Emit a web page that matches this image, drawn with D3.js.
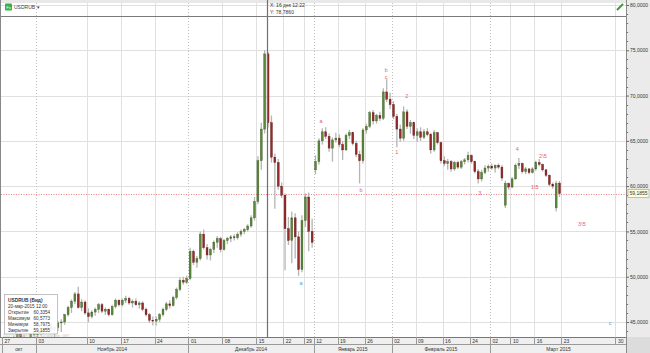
<!DOCTYPE html>
<html>
<head>
<meta charset="utf-8">
<script src="https://cdn.jsdelivr.net/npm/d3@7"></script>
<style>
body { margin: 0; background: #fff; }
svg { font-family: "Liberation Sans", Arial, sans-serif; }
</style>
</head>
<body>
<svg id="chart" width="650" height="353"></svg>
<script>
// week cells on the time axis and how many bars fall in each week
var weekLabels = ["27", "03", "10", "17", "24", "01", "08", "15", "22", "29", "12", "19", "26", "02", "09", "16", "24", "02", "10", "16", "23", "30"];
var weekBars = [10, 15, 10, 10, 10, 10, 10, 8, 6, 3, 7, 8, 8, 7, 8, 8, 6, 6, 7, 8, 16, 4];
var monthLabels = ["окт", "Ноябрь 2014", "Декабрь 2014", "Январь 2015", "Февраль 2015", "Март 2015"];
var monthWeeks = [1, 4, 5, 3, 4, 5];
var dottedWeeks = [1, 5, 10, 13, 17];
var priceTicks = [45, 50, 55, 60, 65, 70, 75, 80];
var lastPrice = 59.1855;

// open, high, low, close
var ohlc = [
    // 27 oct
    [42.0, 42.6, 41.8, 42.4], [42.4, 43.0, 42.2, 42.8], [42.8, 43.2, 42.4, 42.6], [42.6, 43.5, 42.5, 43.3], [43.3, 43.9, 43.0, 43.6],
    [43.6, 44.0, 43.1, 43.3], [43.3, 43.6, 42.2, 42.5], [42.5, 43.1, 41.9, 42.9], [42.9, 43.8, 42.8, 43.6], [43.6, 44.2, 43.4, 44.0],
    // 03 nov
    [43.6, 44.0, 43.2, 43.8], [43.8, 44.3, 43.5, 44.1], [44.1, 44.6, 43.8, 44.3], [44.3, 44.7, 43.9, 44.5], [44.5, 44.9, 44.0, 44.2],
    [44.2, 44.6, 43.0, 44.4], [44.4, 45.1, 44.0, 44.9], [44.9, 45.3, 43.9, 45.0], [45.0, 45.9, 44.7, 45.8], [45.8, 46.8, 45.6, 46.6],
    [46.6, 47.5, 46.0, 47.3], [47.3, 48.3, 47.0, 48.1], [48.1, 48.9, 46.5, 46.6], [46.6, 47.5, 46.2, 47.2], [47.2, 47.4, 45.8, 46.0],
    // 10 nov
    [46.0, 46.5, 45.0, 45.6], [45.6, 46.3, 45.4, 46.1], [46.1, 46.6, 45.7, 46.4], [46.4, 47.1, 46.0, 46.9], [46.9, 47.1, 46.0, 46.2],
    [46.2, 46.6, 45.8, 46.4], [46.4, 46.5, 45.6, 45.8], [45.8, 46.9, 45.7, 46.7], [46.7, 47.6, 46.5, 47.4], [47.4, 47.5, 46.7, 46.9],
    // 17 nov
    [46.9, 47.6, 46.7, 47.4], [47.4, 47.9, 47.1, 47.6], [47.6, 47.8, 46.9, 47.1], [47.1, 47.5, 46.6, 47.3], [47.3, 47.6, 46.8, 46.9],
    [46.9, 47.3, 46.5, 47.1], [47.1, 47.3, 46.2, 46.4], [46.4, 46.6, 45.6, 45.8], [45.8, 46.0, 44.9, 45.2], [45.2, 45.6, 44.6, 45.1],
    // 24 nov
    [45.1, 45.6, 44.6, 45.3], [45.3, 46.0, 45.0, 45.8], [45.8, 46.6, 45.6, 46.4], [46.4, 47.2, 46.2, 47.0], [47.0, 47.4, 46.5, 46.8],
    [46.8, 47.9, 46.7, 47.7], [47.7, 48.8, 47.5, 48.6], [48.6, 49.9, 48.4, 49.6], [49.6, 50.0, 49.1, 49.4], [49.4, 50.1, 49.2, 49.8],
    // 01 dec
    [49.8, 53.2, 49.6, 52.8], [52.8, 53.0, 51.3, 51.6], [51.6, 52.3, 51.0, 52.0], [52.0, 55.0, 51.8, 54.7], [54.7, 55.2, 53.0, 53.2],
    [53.2, 53.6, 51.9, 52.4], [52.4, 53.2, 51.8, 53.0], [53.0, 54.0, 52.6, 53.8], [53.8, 54.5, 53.2, 54.2], [54.2, 54.4, 52.7, 53.0],
    // 08 dec
    [53.0, 54.2, 52.9, 54.0], [54.0, 54.4, 53.6, 54.2], [54.2, 54.6, 53.8, 54.4], [54.4, 54.7, 54.0, 54.3], [54.3, 54.9, 54.1, 54.7],
    [54.7, 55.2, 54.4, 55.0], [55.0, 55.4, 54.7, 55.2], [55.2, 55.8, 55.0, 55.6], [55.6, 56.8, 55.4, 56.5], [56.5, 58.8, 56.2, 58.3],
    // 15 dec
    [58.3, 63.3, 58.0, 62.8], [62.8, 67.0, 61.8, 66.3], [66.3, 75.0, 65.8, 74.6], [74.6, 74.8, 66.5, 67.0],
    [67.0, 67.8, 62.6, 63.2], [63.2, 63.6, 57.5, 62.6], [62.6, 63.0, 59.6, 60.0], [60.0, 60.4, 58.7, 59.0],
    // 22 dec
    [59.0, 59.2, 50.7, 55.3], [55.3, 56.6, 53.5, 54.0], [54.0, 57.2, 51.5, 56.5], [56.5, 57.0, 52.0, 54.4], [54.4, 55.0, 50.1, 50.8], [50.8, 56.8, 50.5, 56.2],
    // 29 dec
    [56.2, 59.2, 55.5, 58.8], [58.8, 59.3, 52.8, 55.0], [55.0, 56.4, 53.2, 53.8],
    // 12 jan
    [61.8, 63.4, 61.3, 62.7], [62.7, 65.3, 62.4, 65.0], [65.0, 66.4, 64.6, 66.0], [66.0, 66.5, 65.2, 65.5], [65.5, 65.8, 63.8, 64.2], [64.2, 65.4, 62.7, 65.1], [65.1, 65.9, 64.8, 65.3],
    // 19 jan
    [65.3, 65.7, 64.3, 64.6], [64.6, 65.0, 62.9, 64.0], [64.0, 65.8, 63.9, 65.6], [65.6, 66.2, 65.2, 65.9], [65.9, 66.0, 64.5, 64.7], [64.7, 65.0, 63.2, 63.5], [63.5, 63.9, 60.3, 62.8], [62.8, 66.4, 62.5, 66.2],
    // 26 jan
    [66.2, 66.9, 65.8, 66.6], [66.6, 68.3, 66.4, 68.1], [68.1, 68.4, 66.8, 67.2], [67.2, 68.0, 66.9, 67.8], [67.8, 68.2, 67.2, 67.5], [67.5, 70.8, 67.3, 70.4], [70.4, 71.8, 69.3, 69.6], [69.6, 70.3, 68.5, 69.0],
    // 02 feb
    [69.0, 69.4, 67.4, 67.7], [67.7, 68.0, 64.3, 66.3], [66.3, 66.8, 64.9, 65.3], [65.3, 68.8, 65.0, 68.2], [68.2, 68.5, 66.3, 66.6], [66.6, 67.3, 65.8, 67.0], [67.0, 67.1, 65.2, 65.6],
    // 09 feb
    [65.6, 66.4, 64.9, 66.0], [66.0, 66.5, 65.0, 65.4], [65.4, 66.3, 65.2, 66.0], [66.0, 66.4, 65.5, 65.7], [65.7, 65.9, 63.6, 64.0], [64.0, 66.2, 63.8, 65.9], [65.9, 66.0, 64.6, 64.8], [64.8, 64.9, 62.5, 62.8],
    // 16 feb
    [62.8, 63.3, 62.2, 62.5], [62.5, 63.0, 61.8, 62.7], [62.7, 62.9, 61.6, 61.9], [61.9, 62.8, 61.7, 62.6], [62.6, 62.8, 61.9, 62.1], [62.1, 62.9, 61.9, 62.7], [62.7, 63.1, 62.4, 62.9], [62.9, 63.8, 62.6, 63.4],
    // 24 feb
    [63.4, 63.5, 62.5, 62.7], [62.7, 62.8, 61.4, 61.6], [61.6, 61.9, 60.3, 60.8], [60.8, 61.8, 60.5, 61.5], [61.5, 62.3, 61.3, 62.0], [62.0, 62.4, 61.6, 62.2],
    // 02 mar
    [62.2, 62.5, 61.8, 62.0], [62.0, 62.4, 61.5, 62.3], [62.3, 62.5, 61.9, 62.1], [62.1, 62.3, 60.6, 60.9], [57.9, 60.6, 57.6, 60.3], [60.3, 60.4, 59.6, 59.9],
    // 10 mar
    [59.9, 61.0, 59.8, 60.8], [60.8, 62.5, 60.7, 62.3], [62.3, 63.1, 61.9, 62.5], [62.5, 62.6, 61.4, 61.6], [61.6, 62.1, 61.3, 61.9], [61.9, 62.0, 61.3, 61.5], [61.5, 62.1, 61.4, 61.9],
    // 16 mar
    [61.9, 62.8, 61.7, 62.6], [62.6, 63.0, 62.2, 62.4], [62.4, 62.5, 61.6, 61.8], [61.8, 61.9, 61.0, 61.2], [61.2, 61.3, 60.0, 60.2],
    [60.2, 60.4, 59.7, 60.0], [57.6, 60.6, 57.2, 60.3],
    [60.3354, 60.5773, 58.7975, 59.1855]
];

// wave marks: text, bar position, price, colour
var waveText = ["a", "b", "b", "c", "2", "1", "3", "4", "2\\5", "1\\5", "3\\5", "a", "c"];
var wavePos = [94.1, 105.9, 113.3, 113.3, 119.4, 116.5, 141.0, 152.0, 159.6, 157.2, 171.1, 88.2, 179.4];
var wavePrice = [67.2, 59.6, 72.8, 72.05, 69.95, 63.8, 59.25, 64.1, 63.35, 59.9, 55.8, 49.3, 44.9];
var waveBlue = [0, 0, 1, 0, 0, 0, 0, 0, 0, 0, 0, 1, 1];

var infoRows = [["Открытие", "60,3354"], ["Максимум", "60,5773"], ["Минимум", "58,7975"], ["Закрытие", "59,1855"]];

var W = 650, H = 353;
var plotL = 1, plotR = 627, plotT = 0, plotB = 337, dayB = 344.5;
var svg = d3.select("#chart");

var x = d3.scaleLinear().domain([0, 184.4]).range([2, plotR]);
var y = d3.scaleLinear().domain([45, 80]).range([322, 5]);
var fmt = function (v) { return d3.format(".4f")(v).replace(".", ","); };

var weekStart = [0];
weekBars.forEach(function (n, i) { weekStart.push(weekStart[i] + n); });
var monthStart = [0];
monthWeeks.forEach(function (n, i) { monthStart.push(monthStart[i] + n); });

svg.append("defs").append("clipPath").attr("id", "plotClip")
    .append("rect").attr("x", plotL).attr("y", plotT).attr("width", plotR - plotL).attr("height", plotB - plotT);

// grid
var grid = svg.append("g").attr("clip-path", "url(#plotClip)");
grid.selectAll("line.h").data(priceTicks).join("line")
    .attr("x1", plotL).attr("x2", plotR)
    .attr("y1", function (d) { return Math.round(y(d)) + 0.5; })
    .attr("y2", function (d) { return Math.round(y(d)) + 0.5; })
    .attr("stroke", "#e0e0e0");
grid.selectAll("line.v").data(weekLabels.slice(1)).join("line")
    .attr("x1", function (d, i) { return Math.round(x(weekStart[i + 1])) + 0.5; })
    .attr("x2", function (d, i) { return Math.round(x(weekStart[i + 1])) + 0.5; })
    .attr("y1", plotT).attr("y2", plotB)
    .attr("stroke", function (d, i) { return dottedWeeks.indexOf(i + 1) >= 0 ? "#c0c0c0" : "#e0e0e0"; })
    .attr("stroke-dasharray", function (d, i) { return dottedWeeks.indexOf(i + 1) >= 0 ? "1,2" : null; });

// top bar
svg.append("rect").attr("x", 0).attr("y", 0).attr("width", plotR).attr("height", 3).attr("fill", "#e8e8e8");

// last price line
svg.append("line").attr("x1", plotL).attr("x2", plotR)
    .attr("y1", Math.round(y(lastPrice)) + 0.5).attr("y2", Math.round(y(lastPrice)) + 0.5)
    .attr("stroke", "#f08080").attr("stroke-dasharray", "1,1.5");

// candles
var cg = svg.append("g").attr("clip-path", "url(#plotClip)");
var bw = 1.9;
cg.selectAll("line.wick").data(ohlc).join("line")
    .attr("x1", function (d, i) { return x(i + 0.5); })
    .attr("x2", function (d, i) { return x(i + 0.5); })
    .attr("y1", function (d) { return y(d[1]); })
    .attr("y2", function (d) { return y(d[2]); })
    .attr("stroke", "#b4b4b4").attr("stroke-width", 1.3);
cg.selectAll("rect.body").data(ohlc).join("rect")
    .attr("x", function (d, i) { return x(i + 0.5) - bw / 2; })
    .attr("width", bw)
    .attr("y", function (d) { return y(Math.max(d[0], d[3])); })
    .attr("height", function (d) { return Math.max(0.8, Math.abs(y(d[0]) - y(d[3]))); })
    .attr("fill", function (d) { return d[3] >= d[0] ? "#5a8838" : "#952a2a"; })
    .attr("stroke", function (d) { return d[3] >= d[0] ? "#3d5c26" : "#661919"; })
    .attr("stroke-width", 0.4);

// wave labels
svg.selectAll("text.wave").data(waveText).join("text")
    .attr("x", function (d, i) { return x(wavePos[i]); })
    .attr("y", function (d, i) { return y(wavePrice[i]); })
    .attr("text-anchor", "middle").attr("dominant-baseline", "central")
    .attr("font-size", 5.5)
    .attr("fill", function (d, i) { return waveBlue[i] ? "#4a9fd8" : "#e4606c"; })
    .text(function (d) { return d; });

// crosshair
svg.append("line").attr("x1", 267.5).attr("x2", 267.5).attr("y1", 0).attr("y2", plotB)
    .attr("stroke", "#707070").attr("stroke-width", 1.2);
svg.append("line").attr("x1", plotL).attr("x2", plotR).attr("y1", 16.5).attr("y2", 16.5)
    .attr("stroke", "#7a7a7a").attr("stroke-width", 1);
svg.append("text").attr("x", 270).attr("y", 7).attr("font-size", 5).attr("fill", "#333").text("X: 16 дек 12:22");
svg.append("text").attr("x", 270).attr("y", 13.5).attr("font-size", 5).attr("fill", "#333").text("Y: 78,7860");

// symbol badge
svg.append("rect").attr("x", 5).attr("y", 3.5).attr("width", 7).attr("height", 7).attr("fill", "#3cb043").attr("rx", 1);
svg.append("text").attr("x", 6.2).attr("y", 9).attr("font-size", 4).attr("fill", "#fff").text("Fx");
svg.append("text").attr("x", 14).attr("y", 9).attr("font-size", 5).attr("fill", "#444").text("USDRUB ▾");

// edit icon top right
svg.append("path").attr("d", "M617,10 L623,4").attr("stroke", "#3a9a3a").attr("stroke-width", 2);

// left border
svg.append("line").attr("x1", 0.5).attr("x2", 0.5).attr("y1", 0).attr("y2", plotB).attr("stroke", "#888");

// right axis panel
svg.append("rect").attr("x", plotR).attr("y", 0).attr("width", W - plotR).attr("height", H).attr("fill", "#ebebeb");
svg.append("line").attr("x1", plotR - 0.5).attr("x2", plotR - 0.5).attr("y1", 0).attr("y2", plotB).attr("stroke", "#8a8a8a");
var yAxis = svg.append("g").attr("transform", "translate(" + (plotR - 0.5) + ",0)")
    .call(d3.axisRight(y).tickValues(priceTicks).tickSize(2.5).tickPadding(1).tickFormat(fmt));
yAxis.select(".domain").remove();
yAxis.selectAll("text").attr("font-size", 5).attr("fill", "#333").attr("font-family", "Liberation Sans, Arial, sans-serif");
yAxis.selectAll("line").attr("stroke", "#666");
var minor = d3.range(44, 81).filter(function (v) { return v % 5 !== 0; });
svg.append("g").selectAll("line").data(minor).join("line")
    .attr("x1", plotR - 0.5).attr("x2", plotR + 1.2)
    .attr("y1", function (d) { return Math.round(y(d)) + 0.5; })
    .attr("y2", function (d) { return Math.round(y(d)) + 0.5; })
    .attr("stroke", "#777");

// last price tag
var ly = y(lastPrice);
svg.append("rect").attr("x", plotR + 1).attr("y", ly - 4).attr("width", 21).attr("height", 8)
    .attr("fill", "#ffffd8").attr("stroke", "#999").attr("stroke-width", 0.6);
svg.append("text").attr("x", plotR + 2.5).attr("y", ly + 1.8).attr("font-size", 5).attr("fill", "#333").text(fmt(lastPrice));

// info box
var ib = svg.append("g");
ib.append("rect").attr("x", 4.5).attr("y", 294.5).attr("width", 53).attr("height", 39.5)
    .attr("fill", "#fff").attr("fill-opacity", 0.92).attr("stroke", "#a8a8a8").attr("stroke-width", 0.7);
ib.append("text").attr("x", 8).attr("y", 302.3).attr("font-size", 4.8).attr("font-weight", "bold").attr("fill", "#333").text("USDRUB (Бид)");
ib.append("text").attr("x", 8).attr("y", 308.3).attr("font-size", 4.6).attr("fill", "#333").text("20-мар-2015 12:00");
ib.selectAll("text.lbl").data(infoRows).join("text")
    .attr("x", 8).attr("y", function (d, i) { return 314.3 + i * 5.8; })
    .attr("font-size", 4.6).attr("fill", "#333").text(function (d) { return d[0]; });
ib.selectAll("text.val").data(infoRows).join("text")
    .attr("x", 33.5).attr("y", function (d, i) { return 314.3 + i * 5.8; })
    .attr("font-size", 4.6).attr("fill", "#333").text(function (d) { return d[1]; });
svg.append("text").attr("x", 3).attr("y", 336.6).attr("font-size", 3.2).attr("fill", "#c4c4c4")
    .text("2014 © Thomson Reuters   Часовой пояс: GMT");

// bottom time axis
var ax = svg.append("g");
ax.append("rect").attr("x", 0).attr("y", plotB).attr("width", W).attr("height", H - plotB).attr("fill", "#efefef");
ax.append("line").attr("x1", 0).attr("x2", plotR).attr("y1", plotB + 0.5).attr("y2", plotB + 0.5).attr("stroke", "#777");
ax.append("line").attr("x1", 0).attr("x2", plotR).attr("y1", dayB).attr("y2", dayB).attr("stroke", "#999");
ax.selectAll("line.wk").data(weekLabels).join("line")
    .attr("x1", function (d, i) { return Math.round(x(weekStart[i])) + 0.5; })
    .attr("x2", function (d, i) { return Math.round(x(weekStart[i])) + 0.5; })
    .attr("y1", plotB).attr("y2", dayB).attr("stroke", "#999");
ax.selectAll("text.wk").data(weekLabels).join("text")
    .attr("x", function (d, i) { return x(weekStart[i]) + 2.5; })
    .attr("y", 342.8).attr("font-size", 5).attr("fill", "#333").text(function (d) { return d; });
ax.selectAll("line.mo").data(monthLabels).join("line")
    .attr("x1", function (d, i) { return Math.round(x(weekStart[monthStart[i]])) + 0.5; })
    .attr("x2", function (d, i) { return Math.round(x(weekStart[monthStart[i]])) + 0.5; })
    .attr("y1", dayB).attr("y2", H).attr("stroke", "#999");
ax.selectAll("text.mo").data(monthLabels).join("text")
    .attr("x", function (d, i) {
        var a = x(weekStart[monthStart[i]]), b = Math.min(plotR, x(weekStart[monthStart[i + 1]]));
        return (a + b) / 2;
    })
    .attr("y", 350.6).attr("text-anchor", "middle").attr("font-size", 5).attr("fill", "#333")
    .text(function (d) { return d; });
ax.append("line").attr("x1", plotR - 0.5).attr("x2", plotR - 0.5).attr("y1", plotB).attr("y2", H).attr("stroke", "#8a8a8a");
ax.append("rect").attr("x", plotR).attr("y", plotB).attr("width", W - plotR).attr("height", H - plotB).attr("fill", "#dcdcdc");
</script>
</body>
</html>
